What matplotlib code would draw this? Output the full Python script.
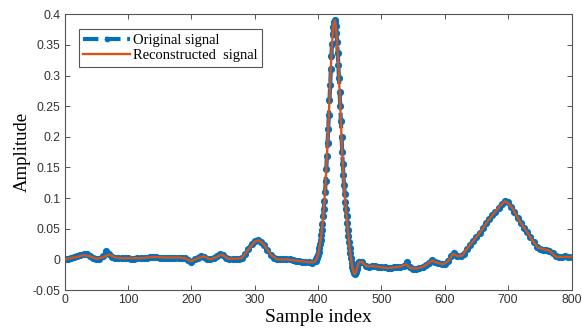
import numpy as np
import matplotlib
matplotlib.use("Agg")
import matplotlib.pyplot as plt

# ---- data ----
idx_pre = np.arange(0, 400, 5)      # 0..395
idx_qrs = np.arange(396, 466, 1)    # 396..465
idx_post = np.arange(470, 805, 5)   # 470..800

orig_pre = [0.000, 0.001, 0.003, 0.004, 0.005, 0.007, 0.008, 0.008, 0.005, 0.003,
            0.001, 0.001, 0.005, 0.013, 0.009, 0.004, 0.003, 0.002, 0.002, 0.002,
            0.002, 0.001, 0.001, 0.002, 0.002, 0.003, 0.003, 0.004, 0.004, 0.004,
            0.003, 0.003, 0.002, 0.003, 0.003, 0.003, 0.003, 0.003, 0.002, -0.001,
            -0.004, 0.000, 0.003, 0.006, 0.004, 0.001, 0.000, 0.002, 0.006, 0.009,
            0.007, 0.002, 0.000, 0.000, 0.001, 0.001, 0.003, 0.009, 0.017, 0.025,
            0.030, 0.031, 0.029, 0.023, 0.015, 0.007, 0.002, 0.000, 0.000, 0.000,
            0.000, 0.000, -0.001, -0.002, -0.003, -0.004, -0.005, -0.005, -0.006, -0.003]
orig_qrs = [-0.002, 0.000, 0.002, 0.004, 0.007, 0.012, 0.018, 0.025, 0.032, 0.040,
            0.048, 0.058, 0.070, 0.082, 0.095, 0.110, 0.128, 0.148, 0.168, 0.190,
            0.212, 0.236, 0.260, 0.285, 0.310, 0.332, 0.352, 0.368, 0.380, 0.388,
            0.390, 0.388, 0.381, 0.370, 0.355, 0.337, 0.318, 0.296, 0.274, 0.250,
            0.226, 0.200, 0.176, 0.155, 0.138, 0.122, 0.107, 0.094, 0.082, 0.070,
            0.059, 0.048, 0.038, 0.028, 0.018, 0.010, 0.002, -0.006, -0.012, -0.017,
            -0.021, -0.023, -0.024, -0.023, -0.020, -0.016, -0.012, -0.008, -0.005, -0.004]
orig_post = [-0.004, -0.010, -0.012, -0.011, -0.011, -0.012, -0.013, -0.013, -0.014, -0.014,
             -0.013, -0.013, -0.012, -0.011, -0.005, -0.013, -0.016, -0.015, -0.014, -0.012,
             -0.009, -0.006, -0.001, -0.004, -0.006, -0.008, -0.007, -0.003, 0.005, 0.010,
             0.006, 0.005, 0.009, 0.017, 0.024, 0.030, 0.036, 0.043, 0.051, 0.059,
             0.066, 0.072, 0.078, 0.084, 0.090, 0.096, 0.093, 0.086, 0.078, 0.068,
             0.060, 0.051, 0.044, 0.036, 0.029, 0.021, 0.017, 0.016, 0.015, 0.014,
             0.010, 0.005, 0.004, 0.004, 0.005, 0.004, 0.004]

rec_idx = [0, 10, 20, 30, 40, 50, 60, 70, 80, 90, 100, 120, 140, 160, 180, 190, 200, 210,
           220, 230, 240, 248, 258, 270, 280, 290, 300, 307, 315, 325, 335, 350, 365, 380, 392,
           396, 398, 400, 402, 404, 406, 408, 410, 412, 414, 416, 418, 420, 422, 424, 426,
           428, 430, 432, 434, 436, 438, 440, 442, 444, 446, 448, 450, 452, 454, 456, 458,
           460, 462, 464, 469, 476, 487, 497, 508, 518, 529, 539, 546, 555, 566, 574, 580,
           587, 597, 605, 613, 621, 628, 634, 645, 655, 666, 676, 687, 695, 700, 708, 718,
           729, 739, 747, 758, 766, 776, 787, 800]
rec_val = [0.000, 0.002, 0.004, 0.007, 0.005, 0.001, 0.003, 0.008, 0.003, 0.002, 0.002,
           0.002, 0.004, 0.003, 0.003, 0.002, -0.003, 0.002, 0.005, 0.000, 0.004, 0.008,
           0.001, 0.001, 0.002, 0.016, 0.029, 0.031, 0.024, 0.008, 0.000, 0.000, -0.002,
           -0.004, -0.005,
           -0.002, 0.002, 0.007, 0.018, 0.032, 0.048, 0.070, 0.095, 0.128, 0.168, 0.212,
           0.260, 0.310, 0.352, 0.380, 0.390, 0.381, 0.355, 0.318, 0.274, 0.226, 0.176,
           0.138, 0.107, 0.082, 0.059, 0.038, 0.018, 0.002, -0.012, -0.021, -0.024,
           -0.020, -0.012, -0.005, -0.004, -0.011, -0.011, -0.0125, -0.014, -0.0135,
           -0.012, -0.008, -0.014, -0.015, -0.012, -0.0065, -0.002, -0.005, -0.008, -0.003,
           0.009, 0.005, 0.0065, 0.016, 0.030, 0.043, 0.060, 0.073, 0.087, 0.095, 0.092,
           0.0815, 0.0625, 0.046, 0.030, 0.019, 0.016, 0.0136, 0.004, 0.004, 0.004]

xticks = [0, 100, 200, 300, 400, 500, 600, 700, 800]
yticks = [-0.05, 0, 0.05, 0.1, 0.15, 0.2, 0.25, 0.3, 0.35, 0.4]
ytick_labels = ["-0.05", "0", "0.05", "0.1", "0.15", "0.2", "0.25", "0.3", "0.35", "0.4"]

orig_idx = np.concatenate([idx_pre, idx_qrs, idx_post])
orig_val = np.array(orig_pre + orig_qrs + orig_post)
assert len(orig_idx) == len(orig_val)
assert len(rec_idx) == len(rec_val)

# ---- figure ----
fig = plt.figure(figsize=(5.82, 3.29), dpi=100)
ax = fig.add_axes([0.111, 0.1185, 0.871, 0.838])

blue = "#0072BD"
orange = "#D95319"
ax.plot(orig_idx, orig_val, linestyle="--", color=blue, linewidth=3.0,
        marker="o", markersize=5.2, markeredgewidth=0, label="Original signal", zorder=2)
ax.plot(rec_idx, rec_val, linestyle="-", color=orange, linewidth=1.7,
        label="Reconstructed  signal", zorder=3)

ax.set_xlim(0, 800)
ax.set_ylim(-0.05, 0.4)
ax.set_xticks(xticks)
ax.set_yticks(yticks)
ax.set_yticklabels(ytick_labels)

spine_col = "#555555"
for s in ax.spines.values():
    s.set_color(spine_col)
    s.set_linewidth(0.8)
ax.tick_params(direction="in", top=True, right=True, length=3.5, width=0.7,
               colors=spine_col, labelcolor="#333333", labelsize=8.8, pad=3)
for lab in ax.get_xticklabels() + ax.get_yticklabels():
    lab.set_fontfamily("Liberation Sans")

ax.set_xlabel("Sample index", fontfamily="Liberation Serif", fontsize=14, labelpad=2)
ax.set_ylabel("Amplitude", fontfamily="Liberation Serif", fontsize=13.5, labelpad=1)

leg = ax.legend(loc="upper left", bbox_to_anchor=(0.028, 0.945), borderaxespad=0,
                prop={"family": "Liberation Serif", "size": 10.5}, fancybox=False,
                framealpha=1, edgecolor="#555555", handlelength=3.2, handletextpad=0.2,
                borderpad=0.3, labelspacing=0.15, markerscale=0.8)
leg.get_frame().set_linewidth(0.8)

fig.savefig("out.png", dpi=100)
